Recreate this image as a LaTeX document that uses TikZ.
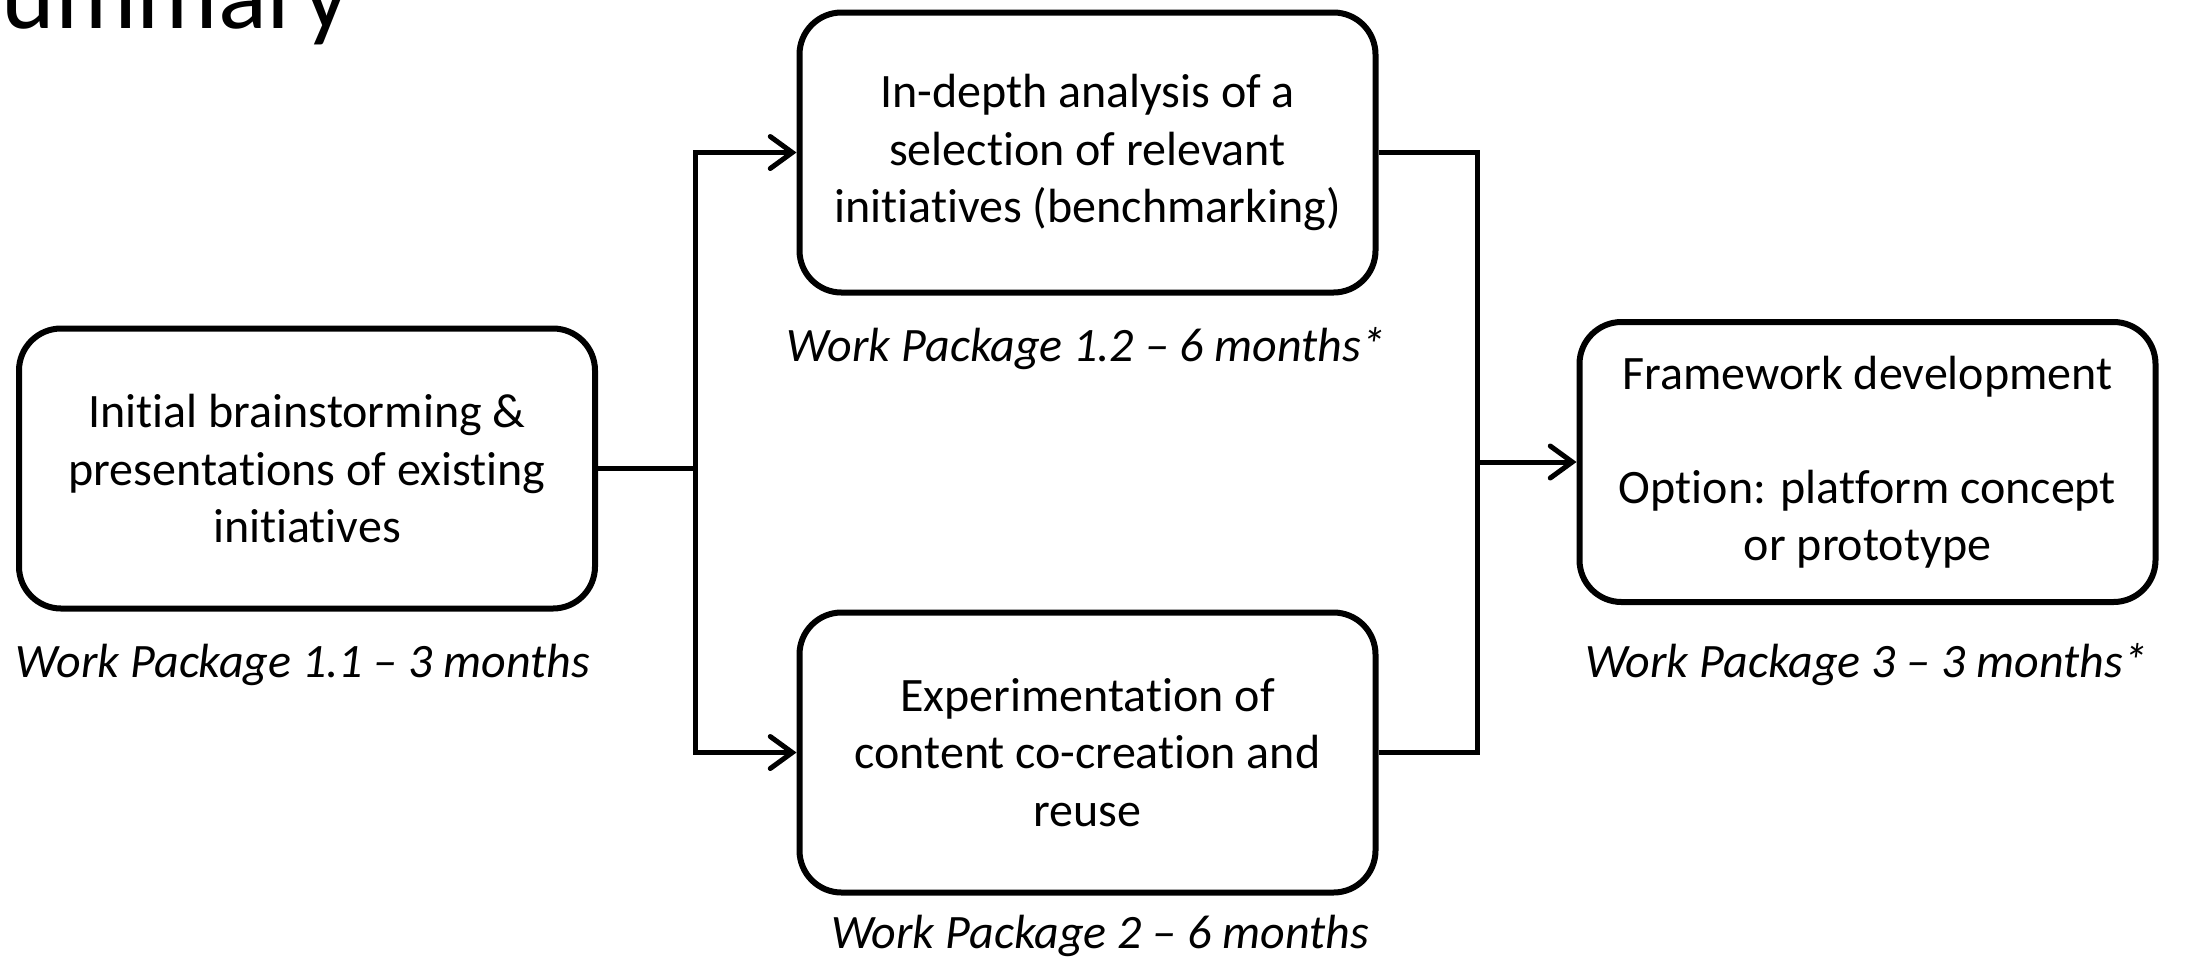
\documentclass[tikz,border=0pt]{standalone}
\usepackage{fontspec}
\setmainfont{Carlito}[Ligatures=NoCommon]
\usetikzlibrary{arrows.meta}
\tikzset{
  wpbox/.style={draw, line width=3pt, rounded corners=21pt, align=center,
    minimum width=288pt, minimum height=140pt, inner sep=0pt,
    font=\fontsize{24pt}{28.6pt}\selectfont},
  wplabel/.style={font=\fontsize{24pt}{28.6pt}\selectfont\itshape, inner sep=0pt},
  conn/.style={line width=2.5pt},
  arr/.style={conn, -{Straight Barb[length=11pt, width=16pt, line width=2.5pt, line cap=round]}},
}
\begin{document}
\begin{tikzpicture}[x=0.5pt, y=-0.5pt]
\useasboundingbox (0,0) rectangle (2189,960);
\node[anchor=base east, inner sep=0pt, font=\fontsize{51pt}{60pt}\selectfont] (title) at (350,28) {Summary};

\node[wpbox] (b1) at (307,468.5) {Initial brainstorming \&\\presentations of existing\\initiatives};
\node[wpbox] (b2) at (1087.5,152.5) {In-depth analysis of a\\selection of relevant\\initiatives (benchmarking)};
\node[wpbox] (b3) at (1087.5,752.5) {Experimentation of\\content co-creation and\\reuse};
\node[wpbox] (b4) at (1867.5,462) {\rule{0pt}{8pt}Framework development\\[28.6pt]Option: platform concept\\or prototype};

\node[wplabel] (l1) at (303,665) {Work Package 1.1 – 3 months};
\node[wplabel] (l2) at (1086,349) {Work Package 1.2 – 6 months*};
\node[wplabel] (l3) at (1100,936) {Work Package 2 – 6 months};
\node[wplabel] (l4) at (1866,665) {Work Package 3 – 3 months*};

\coordinate (j1) at (695,468.5);
\coordinate (j2) at (1477,462);
\draw[conn] (b1.east) -- (j1);
\draw[arr] (j1) |- (b2.west);
\draw[arr] (j1) |- (b3.west);
\draw[conn] (b2.east) -| (j2);
\draw[conn] (b3.east) -| (j2);
\draw[arr] (j2) -- (b4.west);
\end{tikzpicture}
\end{document}
